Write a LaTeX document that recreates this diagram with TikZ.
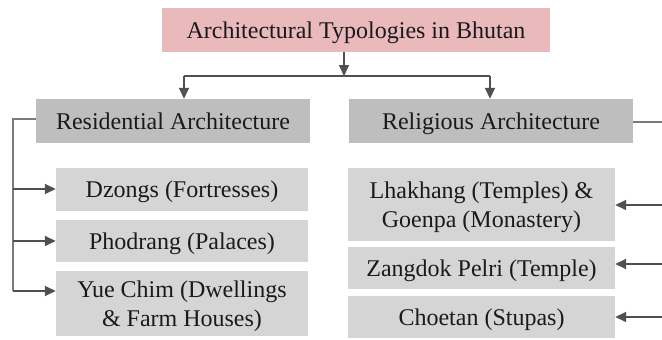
\documentclass[tikz,border=0pt]{standalone}
\usepackage{fontspec}
\setmainfont{Liberation Serif}
\usetikzlibrary{arrows.meta}
\definecolor{titlepink}{HTML}{E9B9BC}
\definecolor{headgray}{HTML}{BEBEBE}
\definecolor{subgray}{HTML}{D5D5D5}
\definecolor{linegray}{HTML}{505050}
\definecolor{lightline}{HTML}{7A7A7A}
\definecolor{textdark}{HTML}{1A1A1A}
\tikzset{
  box/.style={rectangle, inner sep=0pt, text=textdark, align=center,
    font=\fontsize{24}{29}\selectfont, text depth=0pt},
  titlebox/.style={box, fill=titlepink},
  headbox/.style={box, fill=headgray},
  subbox/.style={box, fill=subgray},
  conn/.style={draw=linegray, line width=1.6pt},
  thinconn/.style={draw=lightline, line width=1.3pt},
  arr/.style={conn, -{Triangle[length=11pt,width=10pt]}},
}
\newcommand{\boxat}[7]{% style, name, x1, y1, x2, y2, text
  \node[#1, minimum width={(#5-#3)*1pt}, minimum height={(#6-#4)*1pt}] (#2) at ({(#3+#5)/2},{(#4+#6)/2}) {#7};}
\begin{document}
\begin{tikzpicture}[x=1pt, y=-1pt]
\useasboundingbox (0,0) rectangle (662,340);
\boxat{titlebox}{title}{162}{8}{550}{52}{Architectural Typologies in Bhutan}
\boxat{headbox}{res}{36}{99}{310}{143}{Residential Architecture}
\boxat{headbox}{rel}{349}{99}{633}{143}{Religious Architecture}
\boxat{subbox}{dz}{56}{168}{308}{211}{Dzongs (Fortresses)}
\boxat{subbox}{ph}{56}{220}{308}{262}{Phodrang (Palaces)}
\boxat{subbox}{yue}{56}{271}{308}{336}{Yue Chim (Dwellings\\\& Farm Houses)}
\boxat{subbox}{lh}{348}{168}{615}{241}{Lhakhang (Temples) \&\\Goenpa (Monastery)}
\boxat{subbox}{zp}{348}{247}{615}{289}{Zangdok Pelri (Temple)}
\boxat{subbox}{ch}{348}{296}{615}{338}{Choetan (Stupas)}
% top split
\coordinate (split) at (344,76);
\coordinate (sl) at (184,76);
\coordinate (sr) at (490,76);
\draw[arr] (title.south -| split) -- (split);
\draw[conn] (sl) -- (sr);
\draw[arr] (sl) -- (sl |- res.north);
\draw[arr] (sr) -- (sr |- rel.north);
% left bracket
\coordinate (lbtop) at (13,119);
\coordinate (lbbot) at (13,291);
\draw[thinconn] (res.west |- lbtop) -- (lbtop) -- (lbbot);
\coordinate (l1) at (13,189);
\coordinate (l2) at (13,241);
\draw[arr] (l1) -- (l1 -| dz.west);
\draw[arr] (l2) -- (l2 -| ph.west);
\draw[arr] (lbbot) -- (lbbot -| yue.west);
% right bracket (runs off the edge)
\coordinate (rbtop) at (662,122);
\draw[thinconn] (rel.east |- rbtop) -- (rbtop);
\coordinate (r1) at (662,205);
\coordinate (r2) at (662,264);
\coordinate (r3) at (662,317);
\draw[arr] (r1) -- (r1 -| lh.east);
\draw[arr] (r2) -- (r2 -| zp.east);
\draw[arr] (r3) -- (r3 -| ch.east);
\end{tikzpicture}
\end{document}
